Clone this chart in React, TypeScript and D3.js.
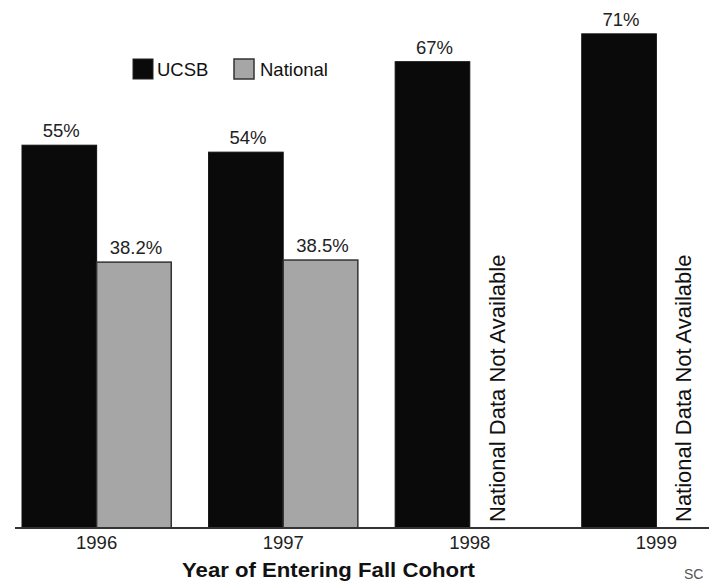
import React from "react";
import * as d3 from "d3";

// values (percent)
const years = ["1996", "1997", "1998", "1999"];
const series = ["UCSB", "National"];
const ucsbValues = [55, 54, 67, 71];
const nationalValues: (number | null)[] = [38.2, 38.5, null, null];
const ucsbLabels = ["55%", "54%", "67%", "71%"];
const nationalLabels = ["38.2%", "38.5%", "", ""];
const missingNote = "National Data Not Available";
const xTitle = "Year of Entering Fall Cohort";

const width = 709;
const height = 582;
const baseline = 528;
const font = "'Liberation Sans', Arial, Helvetica, sans-serif";

const colors: Record<string, string> = {
  UCSB: "#0a0a0a",
  National: "#a6a6a6",
};

const App = () => {
  const xScale = d3
    .scaleBand()
    .domain(years)
    .range([22, 731])
    .paddingInner(0.2)
    .paddingOuter(0);

  const xInner = d3
    .scaleBand()
    .domain(series)
    .range([0, xScale.bandwidth()]);

  const yScale = d3.scaleLinear().domain([0, 100]).range([baseline, baseline - 696]);

  const rows = years.map((year, i) => ({
    year,
    UCSB: ucsbValues[i],
    National: nationalValues[i],
    labels: { UCSB: ucsbLabels[i], National: nationalLabels[i] },
  }));

  return (
    <div style={{ position: "absolute", left: 0, top: 0 }}>
      <svg width={width} height={height} style={{ display: "block", background: "#fff" }}>
        {/* legend */}
        <g fontFamily={font} fontSize={18.5} fill="#111">
          <rect x={133} y={59} width={20} height={20} fill={colors.UCSB} stroke="#222" />
          <text x={157} y={76}>UCSB</text>
          <rect x={234} y={59} width={20} height={20} fill={colors.National} stroke="#333" strokeWidth={1.5} />
          <text x={260} y={76}>National</text>
        </g>

        {/* bars */}
        {rows.map((row) => (
          <g key={row.year} transform={`translate(${xScale(row.year)},0)`}>
            {series.map((key) => {
              const v = (row as any)[key] as number | null;
              const x = xInner(key)!;
              if (v == null) {
                // vertical note where the national bar would be
                return (
                  <text
                    key={key}
                    transform={`translate(${x + 35},${baseline - 6}) rotate(-90)`}
                    fontFamily={font}
                    fontSize={22}
                    fill="#111"
                  >
                    {missingNote}
                  </text>
                );
              }
              return (
                <g key={key}>
                  <rect
                    x={x}
                    y={yScale(v)}
                    width={xInner.bandwidth()}
                    height={baseline - yScale(v)}
                    fill={colors[key]}
                    stroke={key === "UCSB" ? "#111" : "#333"}
                    strokeWidth={key === "UCSB" ? 1 : 1.5}
                  />
                  <text
                    x={x + xInner.bandwidth() / 2 + 2}
                    y={yScale(v) - 8}
                    textAnchor="middle"
                    fontFamily={font}
                    fontSize={18.5}
                    fill="#222"
                  >
                    {(row.labels as any)[key]}
                  </text>
                </g>
              );
            })}
          </g>
        ))}

        {/* x axis */}
        <line x1={15} x2={width} y1={baseline} y2={baseline} stroke="#333" strokeWidth={2} />
        {years.map((year) => (
          <text
            key={year}
            x={xScale(year)! + xScale.bandwidth() / 2}
            y={549}
            textAnchor="middle"
            fontFamily={font}
            fontSize={18.5}
            fill="#222"
          >
            {year}
          </text>
        ))}
        <text
          x={182}
          y={577}
          fontFamily={font}
          fontSize={20}
          fontWeight="bold"
          fill="#111"
          textLength={293}
          lengthAdjust="spacingAndGlyphs"
        >
          {xTitle}
        </text>
        <text x={684} y={579} fontFamily={font} fontSize={14} fill="#555">
          SC
        </text>
      </svg>
    </div>
  );
};

export default App;
